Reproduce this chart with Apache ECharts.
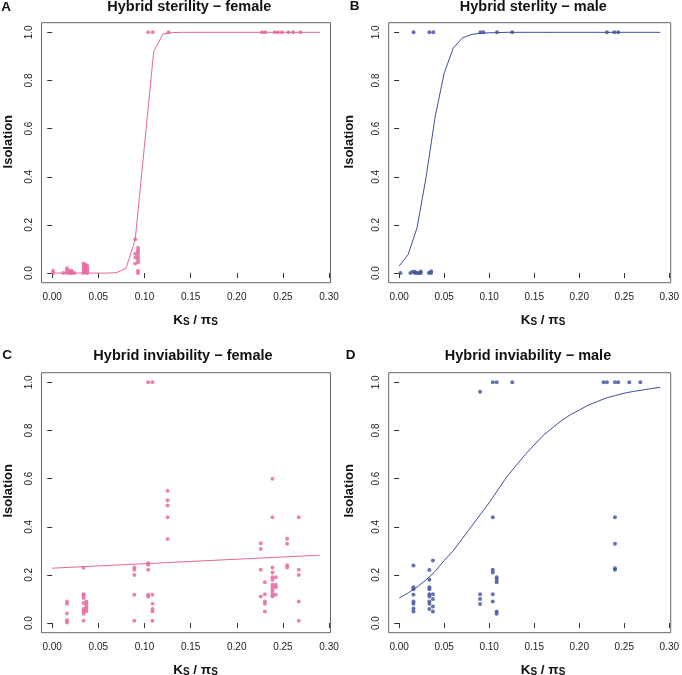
<!DOCTYPE html>
<html>
<head>
<meta charset="utf-8">
<script src="https://cdn.jsdelivr.net/npm/echarts@6/dist/echarts.min.js"></script>
<style>html,body{margin:0;padding:0;background:#fff}#c{width:682px;height:675px}</style>
</head>
<body>
<div id="c"></div>
<script>
// ---------- data ----------
const panelLetters = ['A', 'B', 'C', 'D'];
const panelTitles = ['Hybrid sterility \u2212 female', 'Hybrid sterlity \u2212 male',
  'Hybrid inviability \u2212 female', 'Hybrid inviability \u2212 male'];
const yAxisTitle = 'Isolation';
const xTicks = [0, 0.05, 0.10, 0.15, 0.20, 0.25, 0.30];
const xTickLabels = ['0.00', '0.05', '0.10', '0.15', '0.20', '0.25', '0.30'];
const yTicks = [0, 0.2, 0.4, 0.6, 0.8, 1.0];
const yTickLabels = ['0.0', '0.2', '0.4', '0.6', '0.8', '1.0'];

// A: hybrid sterility - female (points)
const sterFemaleX = [0.001, 0.001, 0.012, 0.016, 0.016, 0.016, 0.019, 0.019, 0.021, 0.021, 0.024,
  0.034, 0.034, 0.034, 0.034, 0.034, 0.036, 0.036, 0.036, 0.036, 0.038, 0.038, 0.038, 0.038,
  0.090, 0.090, 0.090, 0.090, 0.093, 0.093, 0.093, 0.093, 0.093, 0.093, 0.093, 0.093, 0.093,
  0.104, 0.109, 0.126, 0.2275, 0.231, 0.241, 0.2446, 0.249, 0.256, 0.261, 0.269];
const sterFemaleY = [0, 0.01, 0, 0.02, 0.01, 0, 0.01, 0, 0.01, 0, 0,
  0.04, 0.03, 0.02, 0.01, 0, 0.035, 0.025, 0.015, 0.005, 0.03, 0.02, 0.01, 0,
  0.14, 0.08, 0.065, 0.04, 0.105, 0.095, 0.085, 0.075, 0.065, 0.055, 0.045, 0.01, 0,
  1, 1, 1, 1, 1, 1, 1, 1, 1, 1, 1];
// B: hybrid sterility - male (points)
const sterMaleX = [0.0015, 0.0125, 0.015, 0.0175, 0.0175, 0.020, 0.022, 0.024, 0.024, 0.033, 0.0355, 0.0355,
  0.016, 0.0336, 0.038, 0.0903, 0.0935, 0.1087, 0.1256, 0.2307, 0.239, 0.2433];
const sterMaleY = [0, 0, 0.005, 0, 0.006, 0, 0, 0, 0.007, 0, 0, 0.008,
  1, 1, 1, 1, 1, 1, 1, 1, 1, 1];
// C: hybrid inviability - female (points)
const invFemaleX = [0.016, 0.016, 0.016, 0.016, 0.016,
  0.034, 0.034, 0.034, 0.034, 0.034, 0.034, 0.034, 0.034, 0.034,
  0.037, 0.037, 0.037, 0.037, 0.037,
  0.089, 0.089, 0.089, 0.089, 0.089,
  0.104, 0.104, 0.104, 0.104, 0.104, 0.104,
  0.1087, 0.1087, 0.1087, 0.1087, 0.1087, 0.1087,
  0.125, 0.125, 0.125, 0.125, 0.125,
  0.226, 0.226, 0.226, 0.226,
  0.2305, 0.2305, 0.2305, 0.2305, 0.2305,
  0.2387, 0.2387, 0.2387, 0.2387, 0.2387, 0.2387, 0.2387, 0.2387, 0.2387, 0.2387, 0.2387, 0.2387,
  0.2423, 0.2423, 0.2423, 0.2423,
  0.2546, 0.2546, 0.2546, 0.2546,
  0.2672, 0.2672, 0.2672, 0.2672, 0.2672];
const invFemaleY = [0.09, 0.08, 0.04, 0.012, 0.002,
  0.23, 0.12, 0.114, 0.104, 0.083, 0.058, 0.049, 0.039, 0.01,
  0.09, 0.08, 0.069, 0.058, 0.049,
  0.231, 0.221, 0.2, 0.118, 0.01,
  0.249, 0.242, 0.221, 0.118, 0.11, 1.0,
  1.0, 0.118, 0.08, 0.058, 0.048, 0.01,
  0.55, 0.51, 0.488, 0.44, 0.349,
  0.332, 0.308, 0.221, 0.11,
  0.17, 0.12, 0.09, 0.08, 0.048,
  0.6, 0.44, 0.231, 0.21, 0.19, 0.18, 0.159, 0.149, 0.138, 0.129, 0.118, 0.11,
  0.19, 0.159, 0.149, 0.118,
  0.35, 0.33, 0.24, 0.231,
  0.44, 0.221, 0.2, 0.09, 0.01];
// D: hybrid inviability - male (points)
const invMaleX = [0.0159, 0.0159, 0.0159, 0.0159, 0.0159, 0.0159, 0.0159, 0.0159,
  0.0336, 0.0336, 0.0336, 0.0336, 0.0336, 0.0336, 0.0336, 0.0336, 0.0336,
  0.0375, 0.0375, 0.0375, 0.0375, 0.0375,
  0.0899, 0.0899, 0.0899, 0.0899,
  0.104, 0.104, 0.104, 0.104, 0.104, 0.104,
  0.1083, 0.1083, 0.1083, 0.1083, 0.1083, 0.1083,
  0.1256, 0.227, 0.2307,
  0.2397, 0.2397, 0.2397, 0.2397, 0.2397,
  0.2433, 0.2556, 0.2679];
const invMaleY = [0.239, 0.149, 0.141, 0.118, 0.09, 0.08, 0.061, 0.048,
  0.22, 0.18, 0.149, 0.141, 0.12, 0.11, 0.09, 0.08, 0.058,
  0.26, 0.12, 0.1, 0.069, 0.048,
  0.961, 0.12, 0.1, 0.079,
  1.0, 0.44, 0.221, 0.21, 0.12, 0.09,
  1.0, 0.19, 0.18, 0.17, 0.048, 0.039,
  1.0, 1.0, 1.0,
  1.0, 0.44, 0.33, 0.228, 0.221,
  1.0, 1.0, 1.0];

// fitted curves
const fitX = [0, 0.01, 0.02, 0.03, 0.04, 0.05, 0.06, 0.07, 0.08, 0.09, 0.10, 0.11, 0.12, 0.13, 0.14,
  0.15, 0.16, 0.17, 0.18, 0.19, 0.20, 0.21, 0.22, 0.23, 0.24, 0.25, 0.26, 0.27, 0.28, 0.29];
const fitSterFemale = [0, 0, 0, 0, 0, 0, 0, 0.002, 0.02, 0.14, 0.53, 0.92, 0.993, 0.999, 1,
  1, 1, 1, 1, 1, 1, 1, 1, 1, 1, 1, 1, 1, 1, 1];
const fitSterMale = [0.029, 0.077, 0.19, 0.40, 0.65, 0.83, 0.934, 0.976, 0.991, 0.996, 0.998, 0.999, 1, 1, 1,
  1, 1, 1, 1, 1, 1, 1, 1, 1, 1, 1, 1, 1, 1, 1];
const fitInvFemaleX = [0, 0.29];
const fitInvFemale = [0.228, 0.282];
const fitInvMale = [0.104, 0.125, 0.15, 0.18, 0.215, 0.26, 0.30, 0.35, 0.40, 0.45, 0.50, 0.555, 0.61, 0.655, 0.70,
  0.74, 0.78, 0.81, 0.84, 0.865, 0.885, 0.905, 0.92, 0.935, 0.945, 0.955, 0.962, 0.968, 0.974, 0.979];

// ---------- chart ----------
const FONT = '"Liberation Sans", Arial, Helvetica, sans-serif';
const PINK = '#e5679f';
const BLUE = '#3d5198';
const zip = (xs, ys) => xs.map((x, i) => [x, ys[i]]);
const lookup = (ticks, labels) => v => {
  let k = 0;
  ticks.forEach((t, i) => { if (Math.abs(t - v) < Math.abs(ticks[k] - v)) k = i; });
  return labels[k];
};

const boxes = [
  {left: 41.5, top: 22.7, width: 289, height: 260},
  {left: 388.7, top: 22.7, width: 288.3, height: 260},
  {left: 41.5, top: 372.7, width: 289, height: 260},
  {left: 388.7, top: 372.7, width: 288.3, height: 260}
];

const grids = boxes.map(b => Object.assign({show: true, borderColor: '#666', borderWidth: 1,
  backgroundColor: 'rgba(0,0,0,0)', containLabel: false}, b));

const xAxes = boxes.map((b, i) => ({
  type: 'value', gridIndex: i, min: -0.0116, max: 0.3016,
  axisLine: {show: false}, splitLine: {show: false},
  axisTick: {show: true, inside: false, length: 5, customValues: xTicks, lineStyle: {color: '#333', width: 1}},
  axisLabel: {show: true, customValues: xTicks, formatter: lookup(xTicks, xTickLabels), margin: 10,
    fontSize: 10, color: '#222', fontFamily: FONT}
}));
const yAxes = boxes.map((b, i) => ({
  type: 'value', gridIndex: i, min: -0.04, max: 1.04,
  axisLine: {show: false}, splitLine: {show: false},
  axisTick: {show: true, inside: false, length: 5, customValues: yTicks, lineStyle: {color: '#333', width: 1}},
  axisLabel: {show: true, customValues: yTicks, formatter: lookup(yTicks, yTickLabels), margin: 7, rotate: 90,
    fontSize: 10, color: '#222', fontFamily: FONT}
}));

function scatter(i, xs, ys, color) {
  return {type: 'scatter', xAxisIndex: i, yAxisIndex: i, data: zip(xs, ys), symbol: 'circle',
    symbolSize: 4, itemStyle: {color: color}, silent: true, z: 3};
}
function line(i, xs, ys, color) {
  return {type: 'line', xAxisIndex: i, yAxisIndex: i, data: zip(xs, ys), showSymbol: false,
    lineStyle: {color: color, width: 1}, silent: true, z: 2};
}

const series = [
  line(0, fitX, fitSterFemale, PINK), scatter(0, sterFemaleX, sterFemaleY, PINK),
  line(1, fitX, fitSterMale, BLUE), scatter(1, sterMaleX, sterMaleY, BLUE),
  line(2, fitInvFemaleX, fitInvFemale, PINK), scatter(2, invFemaleX, invFemaleY, PINK),
  line(3, fitX, fitInvMale, BLUE), scatter(3, invMaleX, invMaleY, BLUE)
];

// text positions
const letterPos = [[6, 7], [354.5, 6.5], [7, 355.7], [350.5, 355.7]];
const titlePos = [[189.3, 7], [533.3, 7], [183, 355.7], [528, 355.7]];
const isoPos = [[8.3, 141.7], [349.5, 141.7], [8.3, 490.8], [349.5, 490.8]];
const xlabPos = [[195.5, 318.5], [543, 318.5], [195.5, 668], [543, 668]];

const graphics = [];
for (let i = 0; i < 4; i++) {
  graphics.push({type: 'text', x: letterPos[i][0], y: letterPos[i][1], silent: true,
    style: {text: panelLetters[i], font: 'bold 13.5px ' + FONT, fill: '#111', align: 'center', verticalAlign: 'middle'}});
  graphics.push({type: 'text', x: titlePos[i][0], y: titlePos[i][1], silent: true,
    style: {text: panelTitles[i], font: 'bold 14.5px ' + FONT, fill: '#111', align: 'center', verticalAlign: 'middle'}});
  graphics.push({type: 'text', x: isoPos[i][0], y: isoPos[i][1], rotation: Math.PI / 2, silent: true,
    style: {text: yAxisTitle, font: 'bold 13px ' + FONT, fill: '#111', align: 'center', verticalAlign: 'middle'}});
  graphics.push({type: 'text', x: xlabPos[i][0], y: xlabPos[i][1], silent: true,
    style: {text: '{m|K}{s|S}{m| / \u03c0}{s|S}', align: 'center', verticalAlign: 'middle',
      rich: {
        m: {fontSize: 13.5, fontWeight: 'bold', fontFamily: FONT, fill: '#111', lineHeight: 18, verticalAlign: 'bottom'},
        s: {fontSize: 10, fontWeight: 'bold', fontFamily: FONT, fill: '#111', lineHeight: 18, verticalAlign: 'bottom', padding: [6, 0, 0, 0]}
      }}});
}

const chart = echarts.init(document.getElementById('c'), null, {renderer: 'canvas'});
chart.setOption({
  animation: false,
  backgroundColor: '#fff',
  grid: grids,
  xAxis: xAxes,
  yAxis: yAxes,
  series: series,
  graphic: graphics
});
</script>
</body>
</html>
